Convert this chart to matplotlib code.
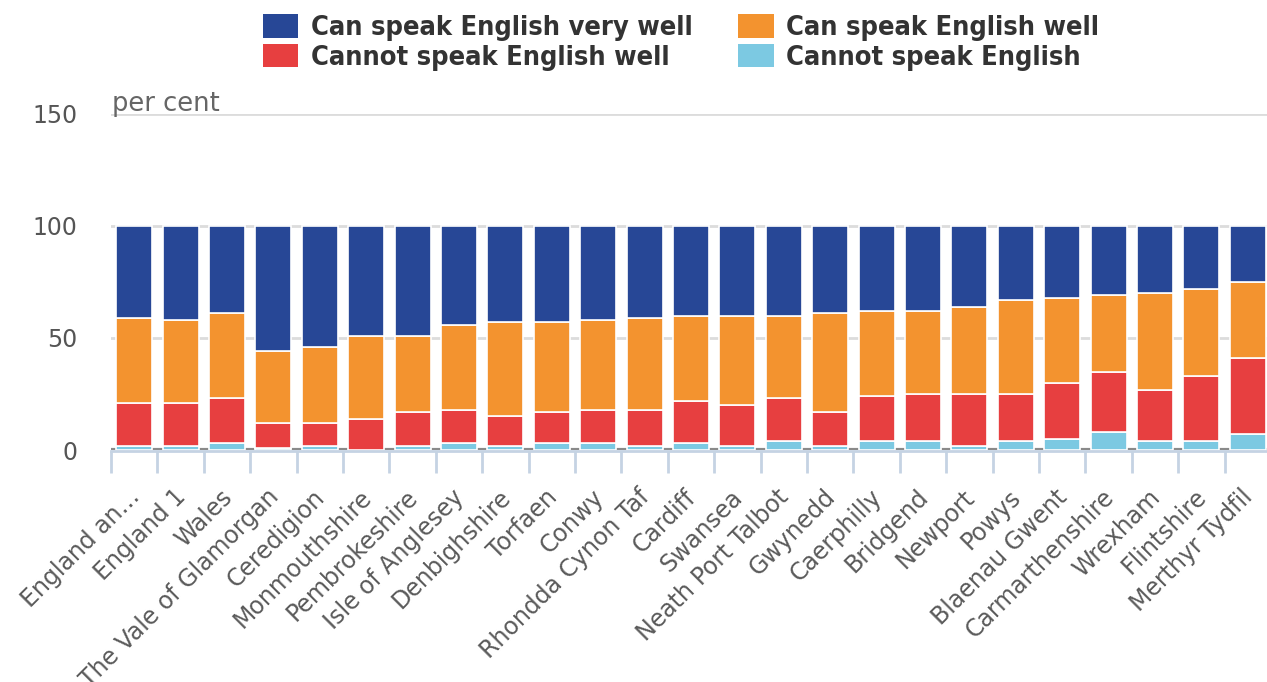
import numpy as np
import matplotlib
matplotlib.use("Agg")
import matplotlib.pyplot as plt
import matplotlib.transforms as mtransforms
from matplotlib.patches import Patch


# Datos (porcentajes, lectura aproximada de la figura)
areas = [
    "England an…", "England 1", "Wales", "The Vale of Glamorgan", "Ceredigion",
    "Monmouthshire", "Pembrokeshire", "Isle of Anglesey", "Denbighshire",
    "Torfaen", "Conwy", "Rhondda Cynon Taf", "Cardiff", "Swansea",
    "Neath Port Talbot", "Gwynedd", "Caerphilly", "Bridgend", "Newport",
    "Powys", "Blaenau Gwent", "Carmarthenshire", "Wrexham", "Flintshire",
    "Merthyr Tydfil",
]
cannot_speak = [2, 2, 3, 1, 2, 0, 2, 3, 2, 3, 3, 2, 3, 2, 4, 2, 4, 4, 2, 4, 5, 8, 4, 4, 7]
cannot_well = [19, 19, 20, 11, 10, 14, 15, 15, 13, 14, 15, 16, 19, 18, 19, 15, 20, 21, 23, 21, 25, 27, 23, 29, 34]
well = [38, 37, 38, 32, 34, 37, 34, 38, 42, 40, 40, 41, 38, 40, 37, 44, 38, 37, 39, 42, 38, 34, 43, 39, 34]
very_well = [41, 42, 39, 56, 54, 49, 49, 44, 43, 43, 42, 41, 40, 40, 40, 39, 38, 38, 36, 33, 32, 31, 30, 28, 25]

series_labels = [
    "Cannot speak English",
    "Cannot speak English well",
    "Can speak English well",
    "Can speak English very well",
]
series_colors = ["#7cc9e2", "#e73f40", "#f3932f", "#274796"]

W, H = 1267, 682
fig = plt.figure(figsize=(W / 100, H / 100), dpi=100)
ax = fig.add_axes([111 / W, 1 - 450 / H, 1160 / W, 336 / H])

x = np.arange(len(areas))
bottom = np.zeros(len(areas))
handles = {}
for values, label, color in zip(
    [cannot_speak, cannot_well, well, very_well], series_labels, series_colors
):
    values = np.asarray(values, dtype=float)
    ax.bar(x, values, bottom=bottom, width=0.78, color=color,
           edgecolor="white", linewidth=1.2, zorder=3)
    handles[label] = Patch(facecolor=color, edgecolor="none", label=label)
    bottom += values

ax.set_xlim(-0.5, len(areas) - 0.5)
ax.set_ylim(0, 150)

# Rejilla horizontal
ax.set_yticks([0, 50, 100, 150])
for yv in [50, 100, 150]:
    ax.axhline(yv, color="#dcdcdc", linewidth=2, zorder=1)
ax.axhline(0, color="#8a8a8a", linewidth=3, zorder=1)

for side in ["left", "right", "top"]:
    ax.spines[side].set_visible(False)
ax.spines["bottom"].set_color("#c5d3e3")
ax.spines["bottom"].set_linewidth(2)
ax.spines["bottom"].set_position(("outward", 1))

ax.tick_params(axis="y", length=0, pad=24, labelsize=17, labelcolor="#555555")

ax.set_xticks(x)
ax.set_xticklabels(areas, rotation=45, ha="right", rotation_mode="anchor",
                   fontsize=17, color="#5a5a5a")
ax.tick_params(axis="x", which="major", length=0, pad=22)
ax.set_xticks(np.arange(len(areas) + 1) - 0.5, minor=True)
ax.tick_params(axis="x", which="minor", length=16, width=2, color="#c5d3e3")

# pequeño desplazamiento diagonal de las etiquetas
shift = mtransforms.ScaledTranslation(-7 / 100, -3 / 100, fig.dpi_scale_trans)
for lbl in ax.get_xticklabels():
    lbl.set_transform(lbl.get_transform() + shift)

ax.annotate("per cent", xy=(0, 150), xycoords=("axes fraction", "data"),
            xytext=(1, 2), textcoords="offset points", ha="left", va="baseline",
            fontsize=18.5, color="#666666")

order = [
    "Can speak English very well",
    "Cannot speak English well",
    "Can speak English well",
    "Cannot speak English",
]
fig.legend(
    [handles[k] for k in order], order,
    loc="upper center", bbox_to_anchor=(681 / W, 1.0 + 8 / H), ncol=2,
    frameon=False,
    prop={"family": "DejaVu Sans", "weight": "bold", "stretch": "condensed", "size": 19.5},
    labelcolor="#333333", handlelength=1.3, handleheight=0.98,
    handletextpad=0.45, columnspacing=1.7, labelspacing=0.1,
    borderaxespad=0.4,
)

fig.savefig("out.png", dpi=100)
